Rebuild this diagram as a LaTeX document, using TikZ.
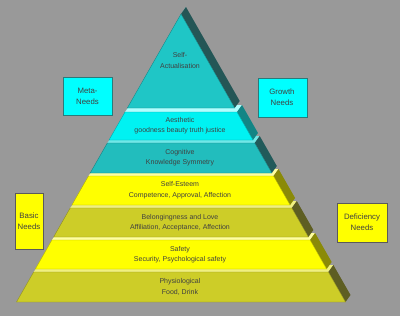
\documentclass[tikz,border=0pt]{standalone}
\usepackage{fontspec}
\setmainfont{Liberation Sans}
\definecolor{bg}{HTML}{999999}
\definecolor{txt}{HTML}{404040}
\definecolor{cyA}{HTML}{1FC6C6}
\definecolor{cyAside}{HTML}{245656}
\definecolor{cyB}{HTML}{00F2F2}
\definecolor{cyBside}{HTML}{128585}
\definecolor{cyBtop}{HTML}{B0FFFF}
\definecolor{cyC}{HTML}{22BDBD}
\definecolor{cyCside}{HTML}{215A5A}
\definecolor{cyCtop}{HTML}{70E8E8}
\definecolor{yeA}{HTML}{FFFF00}
\definecolor{yeAside}{HTML}{8A8A08}
\definecolor{yeAtop}{HTML}{FFFFA0}
\definecolor{yeB}{HTML}{CDCD28}
\definecolor{yeBside}{HTML}{5E5E22}
\definecolor{yeBtop}{HTML}{F0F080}
\definecolor{boxcy}{HTML}{00FFFF}
\definecolor{boxcyline}{HTML}{2A7A7A}
\definecolor{boxye}{HTML}{FFFF00}
\definecolor{boxyeline}{HTML}{5A5A5A}
\newcommand\pyrlevel[5]{%
  \pgfmathsetmacro\xlt{181-0.5712*(#1-14)}%
  \pgfmathsetmacro\xrt{181+0.5712*(#1-14)}%
  \pgfmathsetmacro\xlb{181-0.5712*(#2-14)}%
  \pgfmathsetmacro\xrb{181+0.5712*(#2-14)}%
  \fill[#5] (\xlt,#1) -- (\xrt,#1) -- ++(5,-7) -- (\xlt+5,#1-7) -- cycle;
  \fill[#4] (\xrt,#1) -- (\xrb,#2) -- ++(5,-7) -- (\xrt+5,#1-7) -- cycle;
  \filldraw[fill=#3,draw=#3!70!black,line width=0.4pt] (\xlt,#1) -- (\xrt,#1) -- (\xrb,#2) -- (\xlb,#2) -- cycle;
}
\tikzset{
  lbl/.style={text=txt,font=\fontsize{7}{10.5}\selectfont,align=center,inner sep=0pt},
  boxlbl/.style={lbl,font=\fontsize{7.8}{11}\selectfont},
  cybox/.style={fill=boxcy,draw=boxcyline,line width=0.5pt},
  yebox/.style={fill=boxye,draw=boxyeline,line width=0.5pt},
}
\begin{document}
\begin{tikzpicture}[x=1pt,y=-1pt]
\useasboundingbox (0,0) rectangle (400,316);
\fill[bg] (0,0) rectangle (400,316);
% pyramid, bottom to top
\pyrlevel{272}{302}{yeB}{yeBside}{yeBtop}
\pyrlevel{240}{269}{yeA}{yeAside}{yeAtop}
\pyrlevel{208}{237}{yeB}{yeBside}{yeBtop}
\pyrlevel{176}{205}{yeA}{yeAside}{yeAtop}
\pyrlevel{143}{173}{cyC}{cyCside}{cyCtop}
\pyrlevel{112}{140}{cyB}{cyBside}{cyBtop}
\pyrlevel{14}{108}{cyA}{cyAside}{cyA}
% level labels
\node[lbl] (sa) at (180,60.5) {Self-\\Actualisation};
\node[lbl] (ae) at (180,125.5) {Aesthetic\\goodness beauty truth justice};
\node[lbl] (co) at (180,157.5) {Cognitive\\Knowledge Symmetry};
\node[lbl] (se) at (180,190) {Self-Esteem\\Competence, Approval, Affection};
\node[lbl] (be) at (180,222.5) {Belongingness and Love\\Affiliation, Acceptance, Affection};
\node[lbl] (sf) at (180,254.5) {Safety\\Security, Psychological safety};
\node[lbl] (ph) at (180,287) {Physiological\\Food, Drink};
% side boxes
\draw[cybox] (63,77) rectangle (112,115);
\node[boxlbl] (meta) at (87.5,96) {Meta-\\Needs};
\draw[cybox] (258,78) rectangle (307,117);
\node[boxlbl] (grow) at (282,97) {Growth\\Needs};
\draw[yebox] (15,193) rectangle (43,249);
\node[boxlbl] (basic) at (29,221) {Basic\\Needs};
\draw[yebox] (337,203) rectangle (387,242);
\node[boxlbl] (defi) at (362,222) {Deficiency\\Needs};
\end{tikzpicture}
\end{document}
